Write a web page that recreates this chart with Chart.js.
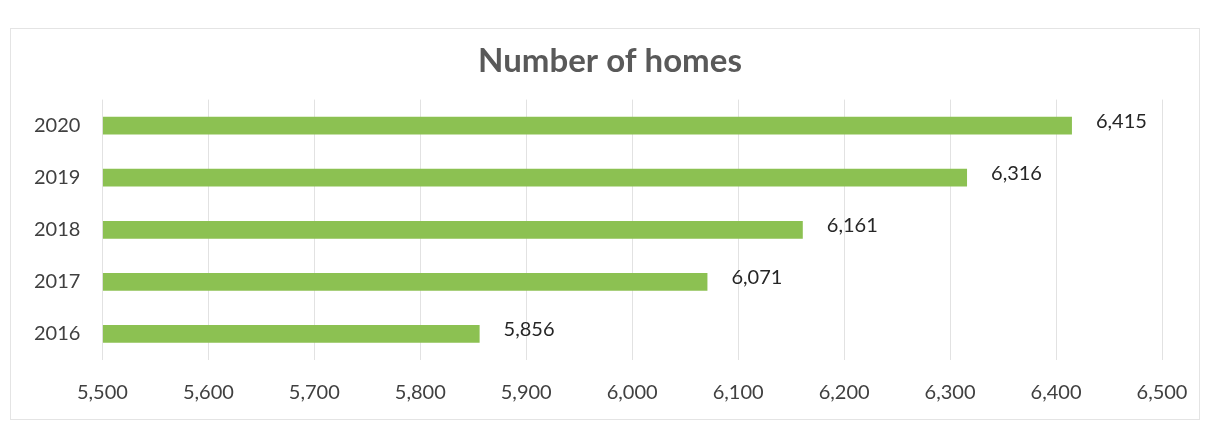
<!DOCTYPE html>
<html>
<head>
<meta charset="utf-8">
<script src="https://cdn.jsdelivr.net/npm/chart.js@4.4.0/dist/chart.umd.min.js"></script>
<style>
  html, body { margin: 0; padding: 0; background: #fff; }
  #wrap { position: relative; width: 1214px; height: 430px; }
  #frame { position: absolute; left: 10px; top: 28px; width: 1190px; height: 392px; border: 1px solid #e4e4e4; box-sizing: border-box; }
  canvas { position: absolute; left: 0; top: 0; }
</style>
</head>
<body>
<div id="wrap">
  <div id="frame"></div>
  <canvas id="chart" width="1214" height="430"></canvas>
</div>
<script>
  // Chart data
  const years = ['2020', '2019', '2018', '2017', '2016'];
  const homes = [6415, 6316, 6161, 6071, 5856];
  const axisMin = 5500;
  const axisMax = 6500;
  const axisStep = 100;

  const FONT = 'Lato, "Open Sans", sans-serif';

  const fmt = function (v) {
    return Number(v).toLocaleString('en-US');
  };

  // Value labels at the end of each bar
  const valueLabels = {
    id: 'valueLabels',
    afterLayout: function (chart) {
      // centre the title over the whole canvas, not the padded box
      if (chart.titleBlock) {
        chart.titleBlock.left = 0;
        chart.titleBlock.right = chart.width + 6;
      }
    },
    afterDatasetsDraw: function (chart) {
      const ctx = chart.ctx;
      const meta = chart.getDatasetMeta(0);
      ctx.save();
      ctx.font = '20px ' + FONT;
      ctx.fillStyle = '#262626';
      ctx.textAlign = 'left';
      ctx.textBaseline = 'middle';
      meta.data.forEach(function (bar, i) {
        ctx.fillText(fmt(homes[i]), bar.x + 24, bar.y - 4);
      });
      ctx.restore();
    }
  };

  new Chart(document.getElementById('chart').getContext('2d'), {
    type: 'bar',
    data: {
      labels: years,
      datasets: [{
        data: homes,
        backgroundColor: '#8cc152',
        borderWidth: 0,
        barPercentage: 0.34,
        categoryPercentage: 1.0,
        base: axisMin
      }]
    },
    options: {
      indexAxis: 'y',
      responsive: false,
      animation: false,
      layout: { padding: { top: 42, left: 12, right: 52, bottom: 4 } },
      plugins: {
        legend: { display: false },
        tooltip: { enabled: false },
        title: {
          display: true,
          text: 'Number of homes',
          color: '#595959',
          font: { family: FONT, size: 33, weight: 'bold' },
          padding: { top: 0, bottom: 18 }
        }
      },
      scales: {
        x: {
          min: axisMin,
          max: axisMax,
          border: { display: false },
          grid: { color: '#e2e2e2', drawTicks: false },
          ticks: {
            stepSize: axisStep,
            padding: 21,
            color: '#404040',
            font: { family: FONT, size: 20 },
            callback: function (v) { return fmt(v); }
          }
        },
        y: {
          border: { display: false },
          grid: { display: false, drawTicks: false },
          ticks: {
            padding: 22,
            color: '#404040',
            font: { family: FONT, size: 20 }
          }
        }
      }
    },
    plugins: [valueLabels]
  });
</script>
</body>
</html>
